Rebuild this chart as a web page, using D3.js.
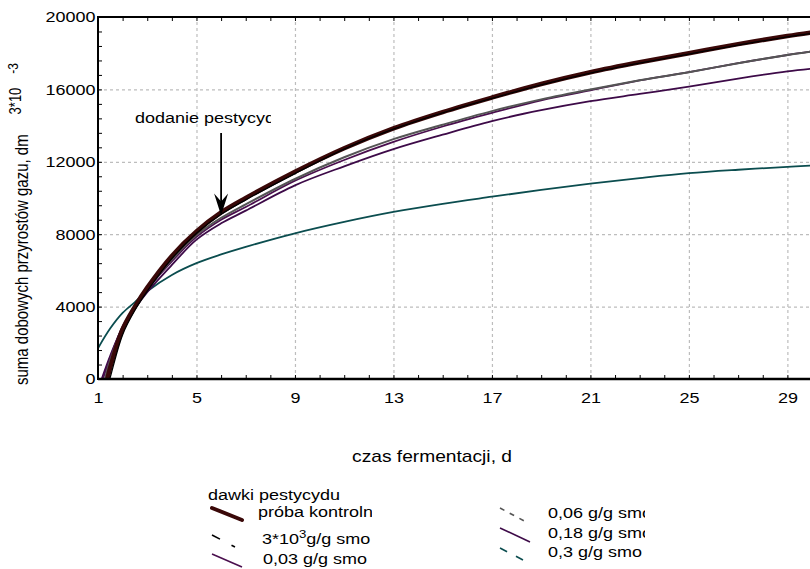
<!DOCTYPE html>
<html lang="pl">
<head>
    <meta charset="utf-8">
    <script src="https://d3js.org/d3.v7.min.js"></script>
    <style>
        body { margin: 0; background: #fff; }
        text { font-family: "Liberation Sans", Arial, sans-serif; fill: #000; }
        .grid line { stroke: #bdbdbd; stroke-width: 1.2; stroke-dasharray: 3, 3; }
        .grid path { display: none; }
    </style>
</head>
<body>
<div id="canvas"></div>
<script>
    // suma dobowych przyrostów gazu [dm3*10^-3]
    var days = [1, 1.5, 2, 2.5, 3, 4, 5, 6, 7, 9, 11, 13, 15, 17, 19, 21, 23, 25, 27, 29, 30];

    var seriesNames = ["próba kontrolna", "3*10-3 g/g smo", "0,03 g/g smo", "0,06 g/g smo", "0,18 g/g smo", "0,3 g/g smo"];
    // dzień, w którym krzywa wychodzi z osi (wartość 0)
    var startDay = [1.38, 1.48, 1.2, 1.28, 1.15, null];

    var kontrolna = [null, 650, 2750, 4000, 5050, 6800, 8150, 9200, 10000, 11450, 12750, 13850, 14750, 15550, 16300, 16950, 17500, 18000, 18500, 18950, 19150];
    var dawka0003 = [null, 100, 2450, 3800, 4850, 6650, 8050, 9100, 9900, 11350, 12700, 13800, 14700, 15500, 16250, 16900, 17450, 17950, 18450, 18900, 19100];
    var dawka003 = [null, 1200, 2900, 4000, 4950, 6500, 7850, 8800, 9500, 10950, 12100, 13100, 13950, 14700, 15400, 15950, 16500, 16950, 17450, 17900, 18100];
    var dawka006 = [null, 1050, 2800, 4000, 4950, 6600, 7950, 8900, 9650, 11050, 12250, 13250, 14050, 14800, 15450, 16000, 16500, 16950, 17450, 17900, 18100];
    var dawka018 = [null, 1300, 2850, 3900, 4800, 6300, 7700, 8600, 9300, 10700, 11750, 12700, 13500, 14250, 14850, 15350, 15750, 16150, 16600, 17000, 17150];
    var dawka03 = [1700, 2800, 3650, 4250, 4850, 5750, 6400, 6880, 7300, 8050, 8680, 9230, 9680, 10070, 10450, 10800, 11100, 11370, 11560, 11720, 11800];

    var xTicks = [1, 5, 9, 13, 17, 21, 25, 29];
    var yTicks = [0, 4000, 8000, 12000, 16000, 20000];

    var allSeries = [kontrolna, dawka0003, dawka003, dawka006, dawka018, dawka03];

    var colors = ["#3a0808", "#000000", "#4a0f4e", "#555555", "#3d0a48", "#0b4d4f"];
    var widths = [4.5, 1.3, 1.8, 2, 1.8, 1.8];
    var drawOrder = [5, 4, 2, 3, 0, 1];

    var W = 810, H = 569;
    var sx = 1.2; // tekst w oryginale jest rozciągnięty poziomo

    var svg = d3.select("#canvas")
        .append("svg")
        .attr("width", W)
        .attr("height", H);

    var margin = { left: 98, top: 17, right: -2, bottom: 190 };
    var x = d3.scaleLinear().domain([1, 30]).range([margin.left, W - margin.right]);
    var y = d3.scaleLinear().domain([0, 20000]).range([H - margin.bottom, margin.top]);

    var x0 = x.range()[0], x1 = x.range()[1], y0 = y.range()[0], y1 = y.range()[1];

    function label(parent, px, py, s, anchor, size) {
        return parent.append("text")
            .attr("transform", "translate(" + px + "," + py + ") scale(" + sx + ",1)")
            .attr("text-anchor", anchor || "start")
            .style("font-size", (size || 15) + "px")
            .text(s);
    }

    function clipBox(id, bx, by, bw, bh) {
        svg.append("clipPath").attr("id", id)
            .append("rect").attr("x", bx).attr("y", by).attr("width", bw).attr("height", bh);
        return svg.append("g").attr("clip-path", "url(#" + id + ")");
    }

    // siatka
    svg.append("g")
        .attr("class", "grid")
        .attr("transform", "translate(0," + y0 + ")")
        .call(d3.axisBottom(x).tickValues(xTicks.slice(1)).tickSize(-(y0 - y1)).tickFormat(""));
    svg.append("g")
        .attr("class", "grid")
        .attr("transform", "translate(" + x0 + ",0)")
        .call(d3.axisLeft(y).tickValues(yTicks.slice(1, -1)).tickSize(-(x1 - x0)).tickFormat(""));

    // krzywe
    var line = d3.line()
        .defined(function (d) { return d[1] != null; })
        .x(function (d) { return x(d[0]); })
        .y(function (d) { return y(d[1]); })
        .curve(d3.curveCatmullRom.alpha(0.5));

    var curves = clipBox("plot", x0, y1, x1 - x0, y0 - y1);
    drawOrder.forEach(function (i) {
        var pts = days.map(function (d, k) { return [d, allSeries[i][k]]; })
            .filter(function (p) { return p[1] != null; });
        if (startDay[i] != null) pts.unshift([startDay[i], 0]);
        curves.append("path")
            .datum(pts)
            .attr("fill", "none")
            .attr("stroke", colors[i])
            .attr("stroke-width", widths[i])
            .attr("stroke-linejoin", "round")
            .attr("d", line);
    });

    // osie i ramka
    var minorX = d3.range(1, 31);
    var minorY = d3.range(0, 20001, 800);

    svg.append("g")
        .attr("transform", "translate(0," + y0 + ")")
        .call(d3.axisBottom(x).tickValues(minorX).tickSize(-4).tickFormat(""))
        .call(function (g) { g.select(".domain").remove(); });
    svg.append("g")
        .attr("transform", "translate(0," + y1 + ")")
        .call(d3.axisTop(x).tickValues(minorX).tickSize(-4).tickFormat(""))
        .call(function (g) { g.select(".domain").remove(); });
    svg.append("g")
        .attr("transform", "translate(" + x0 + ",0)")
        .call(d3.axisLeft(y).tickValues(minorY).tickSize(-4).tickFormat(""))
        .call(function (g) { g.select(".domain").remove(); });

    var xAxis = svg.append("g")
        .attr("transform", "translate(0," + y0 + ")")
        .call(d3.axisBottom(x).tickValues(xTicks).tickSize(0).tickPadding(13));
    var yAxis = svg.append("g")
        .attr("transform", "translate(" + x0 + ",0)")
        .call(d3.axisLeft(y).tickValues(yTicks).tickSize(0).tickPadding(2).tickFormat(d3.format("d")));
    [xAxis, yAxis].forEach(function (a) {
        a.select(".domain").remove();
        a.selectAll("text")
            .attr("transform", "scale(" + sx + ",1)")
            .style("font-size", "15px")
            .style("font-family", '"Liberation Sans", Arial, sans-serif')
            .attr("fill", "#000");
    });

    svg.append("line").attr("x1", x0).attr("x2", x1).attr("y1", y0).attr("y2", y0)
        .attr("stroke", "#000").attr("stroke-width", 2.5);
    svg.append("line").attr("x1", x0).attr("x2", x1).attr("y1", y1).attr("y2", y1)
        .attr("stroke", "#000").attr("stroke-width", 2);
    svg.append("line").attr("x1", x0).attr("x2", x0).attr("y1", y1 - 1).attr("y2", y0 + 1)
        .attr("stroke", "#000").attr("stroke-width", 2);

    // tytuły osi
    label(svg, 432, 462, "czas fermentacji, d", "middle", 16);

    var yt = svg.append("text")
        .attr("transform", "translate(28,385) scale(" + sx + ",1) rotate(-90)")
        .style("font-size", "15px");
    yt.append("tspan").text("suma dobowych przyrostów gazu, dm");
    yt.append("tspan").attr("dx", 20).attr("dy", -6).style("font-size", "13px").text("3*10");
    yt.append("tspan").attr("dx", 14).attr("dy", -2).style("font-size", "12px").text("-3");

    // adnotacja
    label(clipBox("annot", 120, 95, 151, 40), 135, 123, "dodanie pestycydu", "start");

    var ax = x(6), ay = y(kontrolna[days.indexOf(6)]) + 3;
    svg.append("line").attr("x1", ax).attr("x2", ax).attr("y1", 133).attr("y2", ay - 8)
        .attr("stroke", "#000").attr("stroke-width", 1.8);
    svg.append("path")
        .attr("d", "M" + ax + "," + ay + "L" + (ax - 7) + "," + (ay - 22) + "L" + ax + "," + (ay - 14) +
            "L" + (ax + 7) + "," + (ay - 22) + "Z")
        .attr("fill", "#000");

    // legenda
    label(svg, 208, 500, "dawki pestycydu", "start");

    var legendLabels = ["próba kontrolna", "3*10", "0,03 g/g smo", "0,06 g/g smo", "0,18 g/g smo", "0,3 g/g smo"];
    var legendDash = [null, "9,13", null, "5,6", null, "8,10"];
    var legendPos = [
        { lx: 212, ly: 508, dx: 30, dy: 12, tx: 258, ty: 517 },
        { lx: 212, ly: 535, dx: 23, dy: 12, tx: 262, ty: 544 },
        { lx: 212, ly: 554, dx: 30, dy: 13, tx: 263, ty: 564 },
        { lx: 500, ly: 508, dx: 28, dy: 15, tx: 548, ty: 518 },
        { lx: 500, ly: 528, dx: 30, dy: 14, tx: 548, ty: 538 },
        { lx: 500, ly: 548, dx: 23, dy: 12, tx: 548, ty: 557 }
    ];

    var legL = clipBox("legL", 200, 480, 172, 90);
    var legR = clipBox("legR", 490, 480, 155, 90);

    legendPos.forEach(function (p, i) {
        svg.append("line")
            .attr("x1", p.lx).attr("y1", p.ly).attr("x2", p.lx + p.dx).attr("y2", p.ly + p.dy)
            .attr("stroke", colors[i])
            .attr("stroke-width", i === 0 ? 4 : 1.6)
            .attr("stroke-linecap", i === 0 ? "round" : "butt")
            .attr("stroke-dasharray", legendDash[i]);
        var t = label(i < 3 ? legL : legR, p.tx, p.ty, legendLabels[i], "start");
        if (i === 1) {
            t.append("tspan").attr("dy", -6).style("font-size", "11px").text("3");
            t.append("tspan").attr("dy", 6).text("g/g smo");
        }
    });
</script>
</body>
</html>
